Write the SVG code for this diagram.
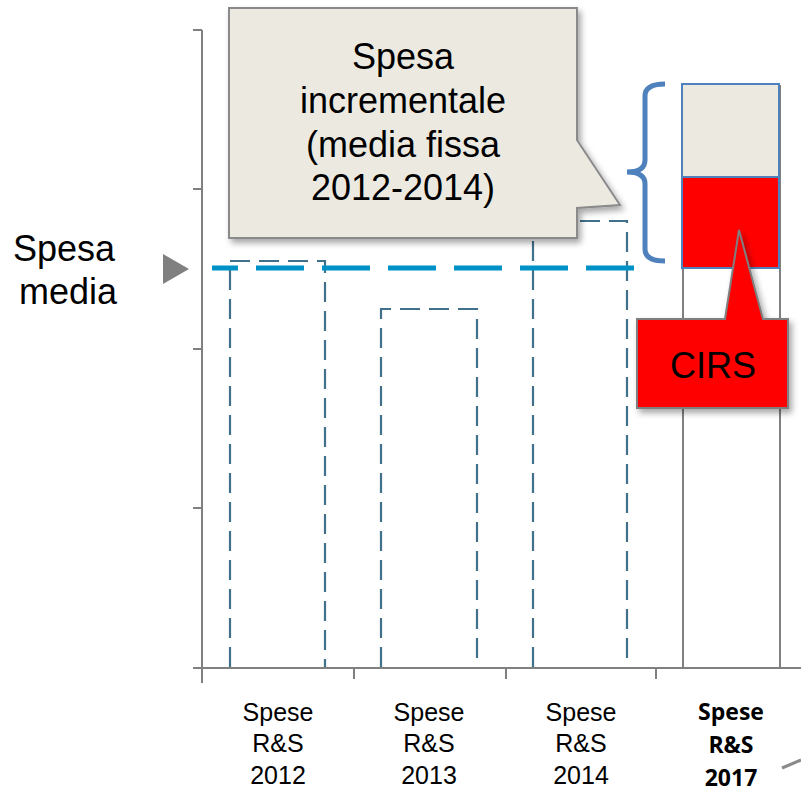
<svg xmlns="http://www.w3.org/2000/svg" width="801" height="793" viewBox="0 0 801 793">
<defs>
<filter id="sh" x="-10%" y="-10%" width="130%" height="130%">
<feDropShadow dx="3" dy="4" stdDeviation="3" flood-color="#000" flood-opacity="0.35"/>
</filter>
<style>
.axis{stroke:#808080;stroke-width:2;fill:none}
.bar{stroke:#41708a;stroke-width:2.2;fill:none;stroke-dasharray:20 9}
.lbl{font-family:"Liberation Sans",Arial,sans-serif;font-size:25px;fill:#000;text-anchor:middle}
.lblb{font-family:"Open Sans","DejaVu Sans",sans-serif;font-size:23px;font-weight:bold;fill:#000;text-anchor:middle}
.big{font-family:"Liberation Sans",Arial,sans-serif;font-size:36px;fill:#000;text-anchor:middle}
</style>
</defs>
<rect width="801" height="793" fill="#fff"/>
<g id="axes">
<path class="axis" d="M202,30 V683 M193,30 H202 M193,189 H202 M193,349 H202 M193,508 H202 M193,668 H801 M354,668 V679 M506,668 V679 M656,668 V679"/>
</g>
<g id="bar2012"><path class="bar" d="M230,667 V261 H325 V667"/></g>
<g id="bar2013"><path class="bar" d="M381,667 V309 H477 V667"/></g>
<g id="bar2014"><path class="bar" d="M533,667 V221 H627 V667"/></g>
<g id="bar2017">
<path class="axis" d="M683,85 V668 M780,85 V668"/>
<rect x="682" y="84" width="97" height="93" fill="#eceae0" stroke="#4f81bd" stroke-width="2"/>
<rect x="682" y="177" width="97" height="91" fill="#ff0000" stroke="#4f81bd" stroke-width="2"/>
</g>
<g id="media-line">
<line x1="212" y1="268" x2="635" y2="268" stroke="#0091c7" stroke-width="5" stroke-dasharray="48 18" stroke-dashoffset="22"/>
</g>
<g id="spesa-media">
<polygon points="163,254 189,269 163,284" fill="#808080"/>
<text class="big" x="64" y="261">Spesa</text>
<text class="big" x="68" y="304">media</text>
</g>
<g id="brace">
<path d="M665,84 Q645,84 645,96 L645,160 Q645,172 627,172 Q645,172 645,184 L645,249 Q645,261 665,261" fill="none" stroke="#4f81bd" stroke-width="5"/>
</g>
<g id="callout-incrementale">
<path d="M229,8 H577 V140 L620,205 L577,208 V238 H229 Z" fill="#eceae0" stroke="#8a8a8a" stroke-width="2" filter="url(#sh)"/>
<text class="big" x="403" y="69">Spesa</text>
<text class="big" x="403" y="113">incrementale</text>
<text class="big" x="403" y="157">(media fissa</text>
<text class="big" x="403" y="200">2012-2014)</text>
</g>
<g id="callout-cirs">
<path d="M637,319 H725 L739,230 L763,319 H788 V408 H637 Z" fill="#ff0000" stroke="#7f7f7f" stroke-width="2" filter="url(#sh)"/>
<text class="big" x="713" y="378">CIRS</text>
</g>
<g id="labels">
<text class="lbl" x="278" y="721">Spese</text>
<text class="lbl" x="278" y="752">R&amp;S</text>
<text class="lbl" x="278" y="784">2012</text>
<text class="lbl" x="429" y="721">Spese</text>
<text class="lbl" x="429" y="752">R&amp;S</text>
<text class="lbl" x="429" y="784">2013</text>
<text class="lbl" x="581" y="721">Spese</text>
<text class="lbl" x="581" y="752">R&amp;S</text>
<text class="lbl" x="581" y="784">2014</text>
<text class="lblb" x="731" y="720">Spese</text>
<text class="lblb" x="731" y="753">R&amp;S</text>
<text class="lblb" x="731" y="786">2017</text>
</g>
<g id="connectors">
<line x1="782" y1="768" x2="801" y2="760" stroke="#8a8a8a" stroke-width="3"/>
</g>
</svg>
